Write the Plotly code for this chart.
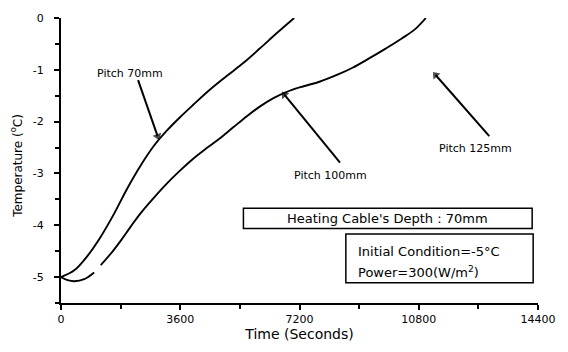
import plotly.graph_objects as go

# Pitch 70 mm curve
t70 = [0, 400, 800, 1200, 1600, 2000, 2400, 2800, 3200, 3600, 4000, 4500, 5000, 5500, 6000, 6500, 7040]
T70 = [-5.00, -4.87, -4.59, -4.22, -3.78, -3.29, -2.85, -2.47, -2.17, -1.91, -1.67, -1.38, -1.12, -0.87,
       -0.59, -0.30, 0.0]

# Pitch 100 mm curve (small gap in the original trace)
t100 = [0, 200, 400, 700, 1000, None, 1200, 1500, 1800, 2100, 2400, 2800, 3200, 3600, 4000, 4400, 4800,
        5200, 5600, 6000, 6400, 6800, 7200, 7800, 8400, 8800, 9300, 9800, 10300, 10700, 11014]
T100 = [-5.00, -5.06, -5.08, -5.04, -4.91, None, -4.77, -4.55, -4.30, -4.03, -3.77, -3.47, -3.19, -2.94,
        -2.71, -2.51, -2.32, -2.11, -1.90, -1.71, -1.55, -1.43, -1.34, -1.23, -1.08, -0.96, -0.78, -0.59,
        -0.39, -0.21, 0.0]

# arrows: (tail_t, tail_T, head_t, head_T)
arrows = [(2327, -1.20, 2916, -2.28), (8423, -2.79, 6744, -1.48), (12929, -2.28, 11309, -1.10)]

x_ticks = [0, 3600, 7200, 10800, 14400]
x_tick_labels = ["0", "3600", "7200", "10800", "14400"]
y_ticks = [0, -1, -2, -3, -4, -5]
y_tick_labels = ["0", "-1", "-2", "-3", "-4", "-5"]

FONT = "DejaVu Sans"

fig = go.Figure()
for tx, ty in [(t70, T70), (t100, T100)]:
    fig.add_trace(go.Scatter(x=tx, y=ty, mode="lines",
                             line=dict(color="black", width=1.9, shape="spline", smoothing=1.0),
                             connectgaps=False, showlegend=False, hoverinfo="skip"))
for (ax0, ay0, hx, hy) in arrows:
    fig.add_trace(go.Scatter(x=[ax0, hx], y=[ay0, hy], mode="lines+markers",
                             line=dict(color="black", width=2),
                             marker=dict(symbol=["circle", "triangle-up"], size=[1, 8], angleref="previous",
                                         color="black", line=dict(width=0)),
                             showlegend=False, hoverinfo="skip"))

fig.update_layout(
    width=568, height=352,
    margin=dict(l=61, r=18, t=16, b=42),
    paper_bgcolor="white", plot_bgcolor="white",
    font=dict(family=FONT, color="black", size=11),
    xaxis=dict(range=[0, 14400], tickvals=x_ticks, ticktext=x_tick_labels, showgrid=False, zeroline=False,
               showline=True, linecolor="black", linewidth=2, ticks="outside", ticklen=5, tickwidth=2,
               tickcolor="black", tickfont=dict(size=11, family=FONT),
               minor=dict(dtick=1800, ticks="outside", ticklen=4, tickwidth=2, tickcolor="black"),
               title=dict(text="Time (Seconds)", font=dict(size=14, family=FONT), standoff=4)),
    yaxis=dict(range=[-5.5, 0], tickvals=y_ticks, ticktext=y_tick_labels, showgrid=False, zeroline=False,
               showline=True, linecolor="black", linewidth=2, ticks="outside", ticklen=5, tickwidth=2,
               tickcolor="black", tickfont=dict(size=11, family=FONT), ticklabelstandoff=8,
               minor=dict(dtick=0.5, ticks="outside", ticklen=4, tickwidth=2, tickcolor="black")),
)

ann = []
ann.append(dict(text="Temperature (<sup>o</sup>C)", xref="paper", yref="y", x=-0.094, y=-2.85,
                xanchor="center", yanchor="middle", textangle=-90, showarrow=False,
                font=dict(size=12, family=FONT)))
ann.append(dict(text="Pitch 70mm", x=2091, y=-1.07, showarrow=False, font=dict(size=11, family=FONT)))
ann.append(dict(text="Pitch 100mm", x=8128, y=-3.03, showarrow=False, font=dict(size=11, family=FONT)))
ann.append(dict(text="Pitch 125mm", x=12516, y=-2.51, showarrow=False, font=dict(size=11, family=FONT)))
ann.append(dict(text="Heating Cable's Depth : 70mm", x=9866, y=-3.865, showarrow=False,
                font=dict(size=13, family=FONT)))
ann.append(dict(text="Initial Condition=-5°C", x=8894, y=-4.50, xanchor="left", showarrow=False,
                font=dict(size=13, family=FONT)))
ann.append(dict(text="Power=300(W/m<sup>2</sup>)", x=8894, y=-4.90, xanchor="left", showarrow=False,
                font=dict(size=13, family=FONT)))
fig.update_layout(annotations=ann)

fig.add_shape(type="rect", x0=5507, x1=14224, y0=-3.67, y1=-4.06, line=dict(color="black", width=1.5))
fig.add_shape(type="rect", x0=8599, x1=14254, y0=-4.17, y1=-5.11, line=dict(color="black", width=1.5))

fig.write_html("out.html")
